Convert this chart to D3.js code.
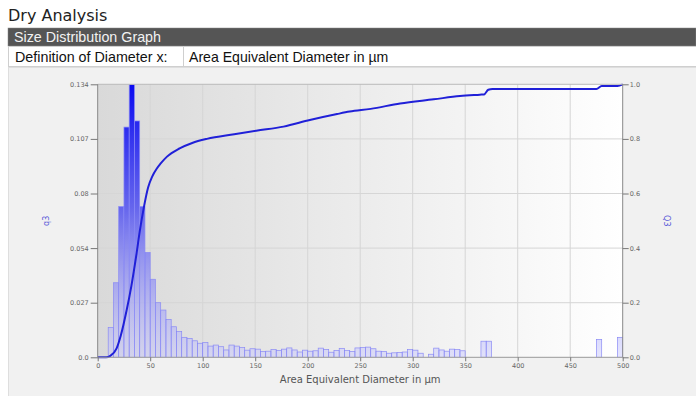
<!DOCTYPE html>
<html>
<head>
<meta charset="utf-8">
<script src="https://cdn.jsdelivr.net/npm/d3@7"></script>
<style>
	body { margin:0; background:#fff; }
	svg { display:block; }
</style>
</head>
<body>
<script>
// data
var binLo=[10,15,20,25,30,35,40,45,50,55,60,65,70,75,80,85,90,95,100,105,110,115,120,125,130,
	135,140,145,150,155,160,165,170,175,180,185,190,195,200,205,210,215,220,225,230,235,240,245,250,
	255,260,265,270,275,280,285,290,295,300,305,315,320,325,330,335,340,345,365,370,475,495];
var q3=[0.0147,0.0366,0.074,0.113,0.145,0.116,0.074,0.0515,0.0383,0.0268,0.0232,0.0186,0.015,0.0126,0.0098,0.0093,0.0081,0.0069,0.0072,0.0055,0.006,0.0052,0.0036,0.006,0.0055,
	0.0048,0.0035,0.0042,0.0040,0.0028,0.0030,0.0038,0.0033,0.0040,0.0046,0.0036,0.0026,0.0035,0.0030,0.0032,0.0045,0.0038,0.0025,0.0034,0.0044,0.0033,0.0028,0.0046,0.0048,
	0.0050,0.0042,0.0030,0.0028,0.0020,0.0022,0.0024,0.0026,0.0038,0.0035,0.0020,0.0015,0.0045,0.0036,0.0030,0.0040,0.0038,0.0032,0.0079,0.0079,0.0088,0.0098];
var binWidth=5;
var cumX=[0,8,12,18,22,27.6,32,37,40,44,48,52,56,60,66,78,90,104,130,151,177,202,228,240,260,288,320,345,364,368,372,376,475,480,495,500];
var cumQ=[0,0,0.005,0.033,0.08,0.173,0.26,0.38,0.46,0.55,0.622,0.663,0.69,0.71,0.735,0.765,0.785,0.80,0.817,0.83,0.845,0.869,0.891,0.9,0.91,0.93,0.945,0.957,0.962,0.963,0.98,0.983,0.983,0.994,0.994,1.0];
var xTicks=[0,50,100,150,200,250,300,350,400,450,500];
var leftTickLabels=["0.0","0.027","0.054","0.08","0.107","0.134"];
var rightTicks=[0,0.2,0.4,0.6,0.8,1.0];
var qMax=0.134;

var W=696, H=396;
var plot={l:97.7, r:622.7, t:84.3, b:357.3};

var svg=d3.select('body').append('svg').attr('width',W).attr('height',H);
var defs=svg.append('defs');

// header //{{{
var hdrFont='Liberation Sans, Arial';
svg.append('text').attr('x',8).attr('y',20.5).attr('font-family','DejaVu Sans, Verdana').attr('font-size',16).attr('fill','#222').text('Dry Analysis');
svg.append('rect').attr('x',8).attr('y',28).attr('width',W-8).attr('height',18).attr('fill','#555').attr('stroke','#888').attr('stroke-width',0.5);
svg.append('text').attr('x',14).attr('y',42).attr('font-family',hdrFont).attr('font-size',14.3).attr('fill','#f2f2f2').text('Size Distribution Graph');
svg.append('rect').attr('x',8.5).attr('y',46.5).attr('width',W-8).attr('height',20).attr('fill','#fff').attr('stroke','#cfcfcf');
svg.append('line').attr('x1',183.5).attr('x2',183.5).attr('y1',46.5).attr('y2',66.5).attr('stroke','#cfcfcf');
svg.append('text').attr('x',15).attr('y',62).attr('font-family',hdrFont).attr('font-size',14.3).attr('fill','#111').text('Definition of Diameter x:');
svg.append('text').attr('x',189).attr('y',62).attr('font-family',hdrFont).attr('font-size',14.1).attr('fill','#111').text('Area Equivalent Diameter in µm');
svg.append('rect').attr('x',8.5).attr('y',67.5).attr('width',W-8).attr('height',H-67).attr('fill','#f1f1f1').attr('stroke','#dedede');
//}}}

// scales //{{{
var x=d3.scaleLinear().domain([0,500]).range([plot.l,plot.r]);
var y=d3.scaleLinear().domain([0,qMax]).range([plot.b,plot.t]).clamp(true);
var y2=d3.scaleLinear().domain([0,1]).range([plot.b,plot.t]);
//}}}

// plot background //{{{
var bg=defs.append('linearGradient').attr('id','bg').attr('x1','0').attr('x2','1').attr('y1','0').attr('y2','0');
bg.append('stop').attr('offset','0').attr('stop-color','#d9d9d9');
bg.append('stop').attr('offset','0.5').attr('stop-color','#ececec');
bg.append('stop').attr('offset','1').attr('stop-color','#ffffff');
svg.append('rect').attr('x',plot.l).attr('y',plot.t).attr('width',plot.r-plot.l).attr('height',plot.b-plot.t).attr('fill','url(#bg)');

var bars=defs.append('linearGradient').attr('id','bars').attr('gradientUnits','userSpaceOnUse')
	.attr('x1',0).attr('x2',0).attr('y1',plot.t).attr('y2',plot.b);
bars.append('stop').attr('offset','0').attr('stop-color','#0a0af0').attr('stop-opacity',1);
bars.append('stop').attr('offset','0.45').attr('stop-color','#5050f0').attr('stop-opacity',0.85);
bars.append('stop').attr('offset','1').attr('stop-color','#c8c8ff').attr('stop-opacity',0.45);

defs.append('clipPath').attr('id','clip').append('rect').attr('x',plot.l).attr('y',plot.t).attr('width',plot.r-plot.l).attr('height',plot.b-plot.t);
//}}}

// grid //{{{
var grid=svg.append('g').attr('stroke','#d6d6d6').attr('stroke-width',1);
grid.selectAll('line.v').data(xTicks.slice(1,-1)).join('line').attr('class','v')
	.attr('x1',function(d){return x(d);}).attr('x2',function(d){return x(d);}).attr('y1',plot.t).attr('y2',plot.b);
grid.selectAll('line.h').data(rightTicks.slice(1,-1)).join('line').attr('class','h')
	.attr('x1',plot.l).attr('x2',plot.r).attr('y1',function(d){return y2(d);}).attr('y2',function(d){return y2(d);});
//}}}

// histogram //{{{
svg.append('g').attr('clip-path','url(#clip)').selectAll('rect').data(binLo).join('rect')
	.attr('x',function(d){return x(d);})
	.attr('width',function(d){return x(d+binWidth)-x(d);})
	.attr('y',function(d,i){return y(q3[i]);})
	.attr('height',function(d,i){return plot.b-y(q3[i]);})
	.attr('fill','url(#bars)')
	.attr('stroke','#8a8af5').attr('stroke-width',0.7);
//}}}

// cumulative //{{{
var line=d3.line().x(function(d){return x(d);}).y(function(d,i){return y2(cumQ[i]);}).curve(d3.curveMonotoneX);
svg.append('path').attr('d',line(cumX)).attr('fill','none').attr('stroke','#2020d8').attr('stroke-width',2);
//}}}

// frame & axes //{{{
svg.append('line').attr('x1',plot.l).attr('x2',plot.r).attr('y1',plot.t).attr('y2',plot.t).attr('stroke','#bbb');
svg.append('line').attr('x1',plot.l).attr('x2',plot.l).attr('y1',plot.t).attr('y2',plot.b).attr('stroke','#888');
svg.append('line').attr('x1',plot.r).attr('x2',plot.r).attr('y1',plot.t).attr('y2',plot.b).attr('stroke','#888');
svg.append('line').attr('x1',plot.l).attr('x2',plot.r).attr('y1',plot.b).attr('y2',plot.b).attr('stroke','#999');

var tickFont='DejaVu Sans, Verdana';
var xAxis=d3.axisBottom(x).tickValues(xTicks).tickSize(4).tickPadding(2);
var gx=svg.append('g').attr('transform','translate(0,'+plot.b+')').call(xAxis);
var leftVals=leftTickLabels.map(function(d,i){return qMax*i/5;});
var yAxis=d3.axisLeft(y).tickValues(leftVals).tickFormat(function(d,i){return leftTickLabels[i];}).tickSize(7).tickPadding(2);
var gy=svg.append('g').attr('transform','translate('+plot.l+',0)').call(yAxis);
var yAxis2=d3.axisRight(y2).tickValues(rightTicks).tickFormat(d3.format('.1f')).tickSize(6).tickPadding(1);
var gy2=svg.append('g').attr('transform','translate('+plot.r+',0)').call(yAxis2);
[gx,gy,gy2].forEach(function(g){
	g.select('.domain').remove();
	g.selectAll('line').attr('stroke','#777');
	g.selectAll('text').attr('fill','#666').attr('font-family',tickFont).attr('font-size',6.5);
});

svg.append('text').attr('x',(plot.l+plot.r)/2).attr('y',383).attr('text-anchor','middle')
	.attr('font-family',tickFont).attr('font-size',10).attr('fill','#555').text('Area Equivalent Diameter in µm');
svg.append('text').attr('transform','translate(49,'+((plot.t+plot.b)/2)+') rotate(-90)').attr('text-anchor','middle')
	.attr('font-family',tickFont).attr('font-size',8).attr('fill','#5a5ad8').text('q3');
svg.append('text').attr('transform','translate(664,'+((plot.t+plot.b)/2)+') rotate(90)').attr('text-anchor','middle')
	.attr('font-family',tickFont).attr('font-size',8).attr('fill','#5a5ad8').text('Q3');
//}}}
</script>
</body>
</html>
